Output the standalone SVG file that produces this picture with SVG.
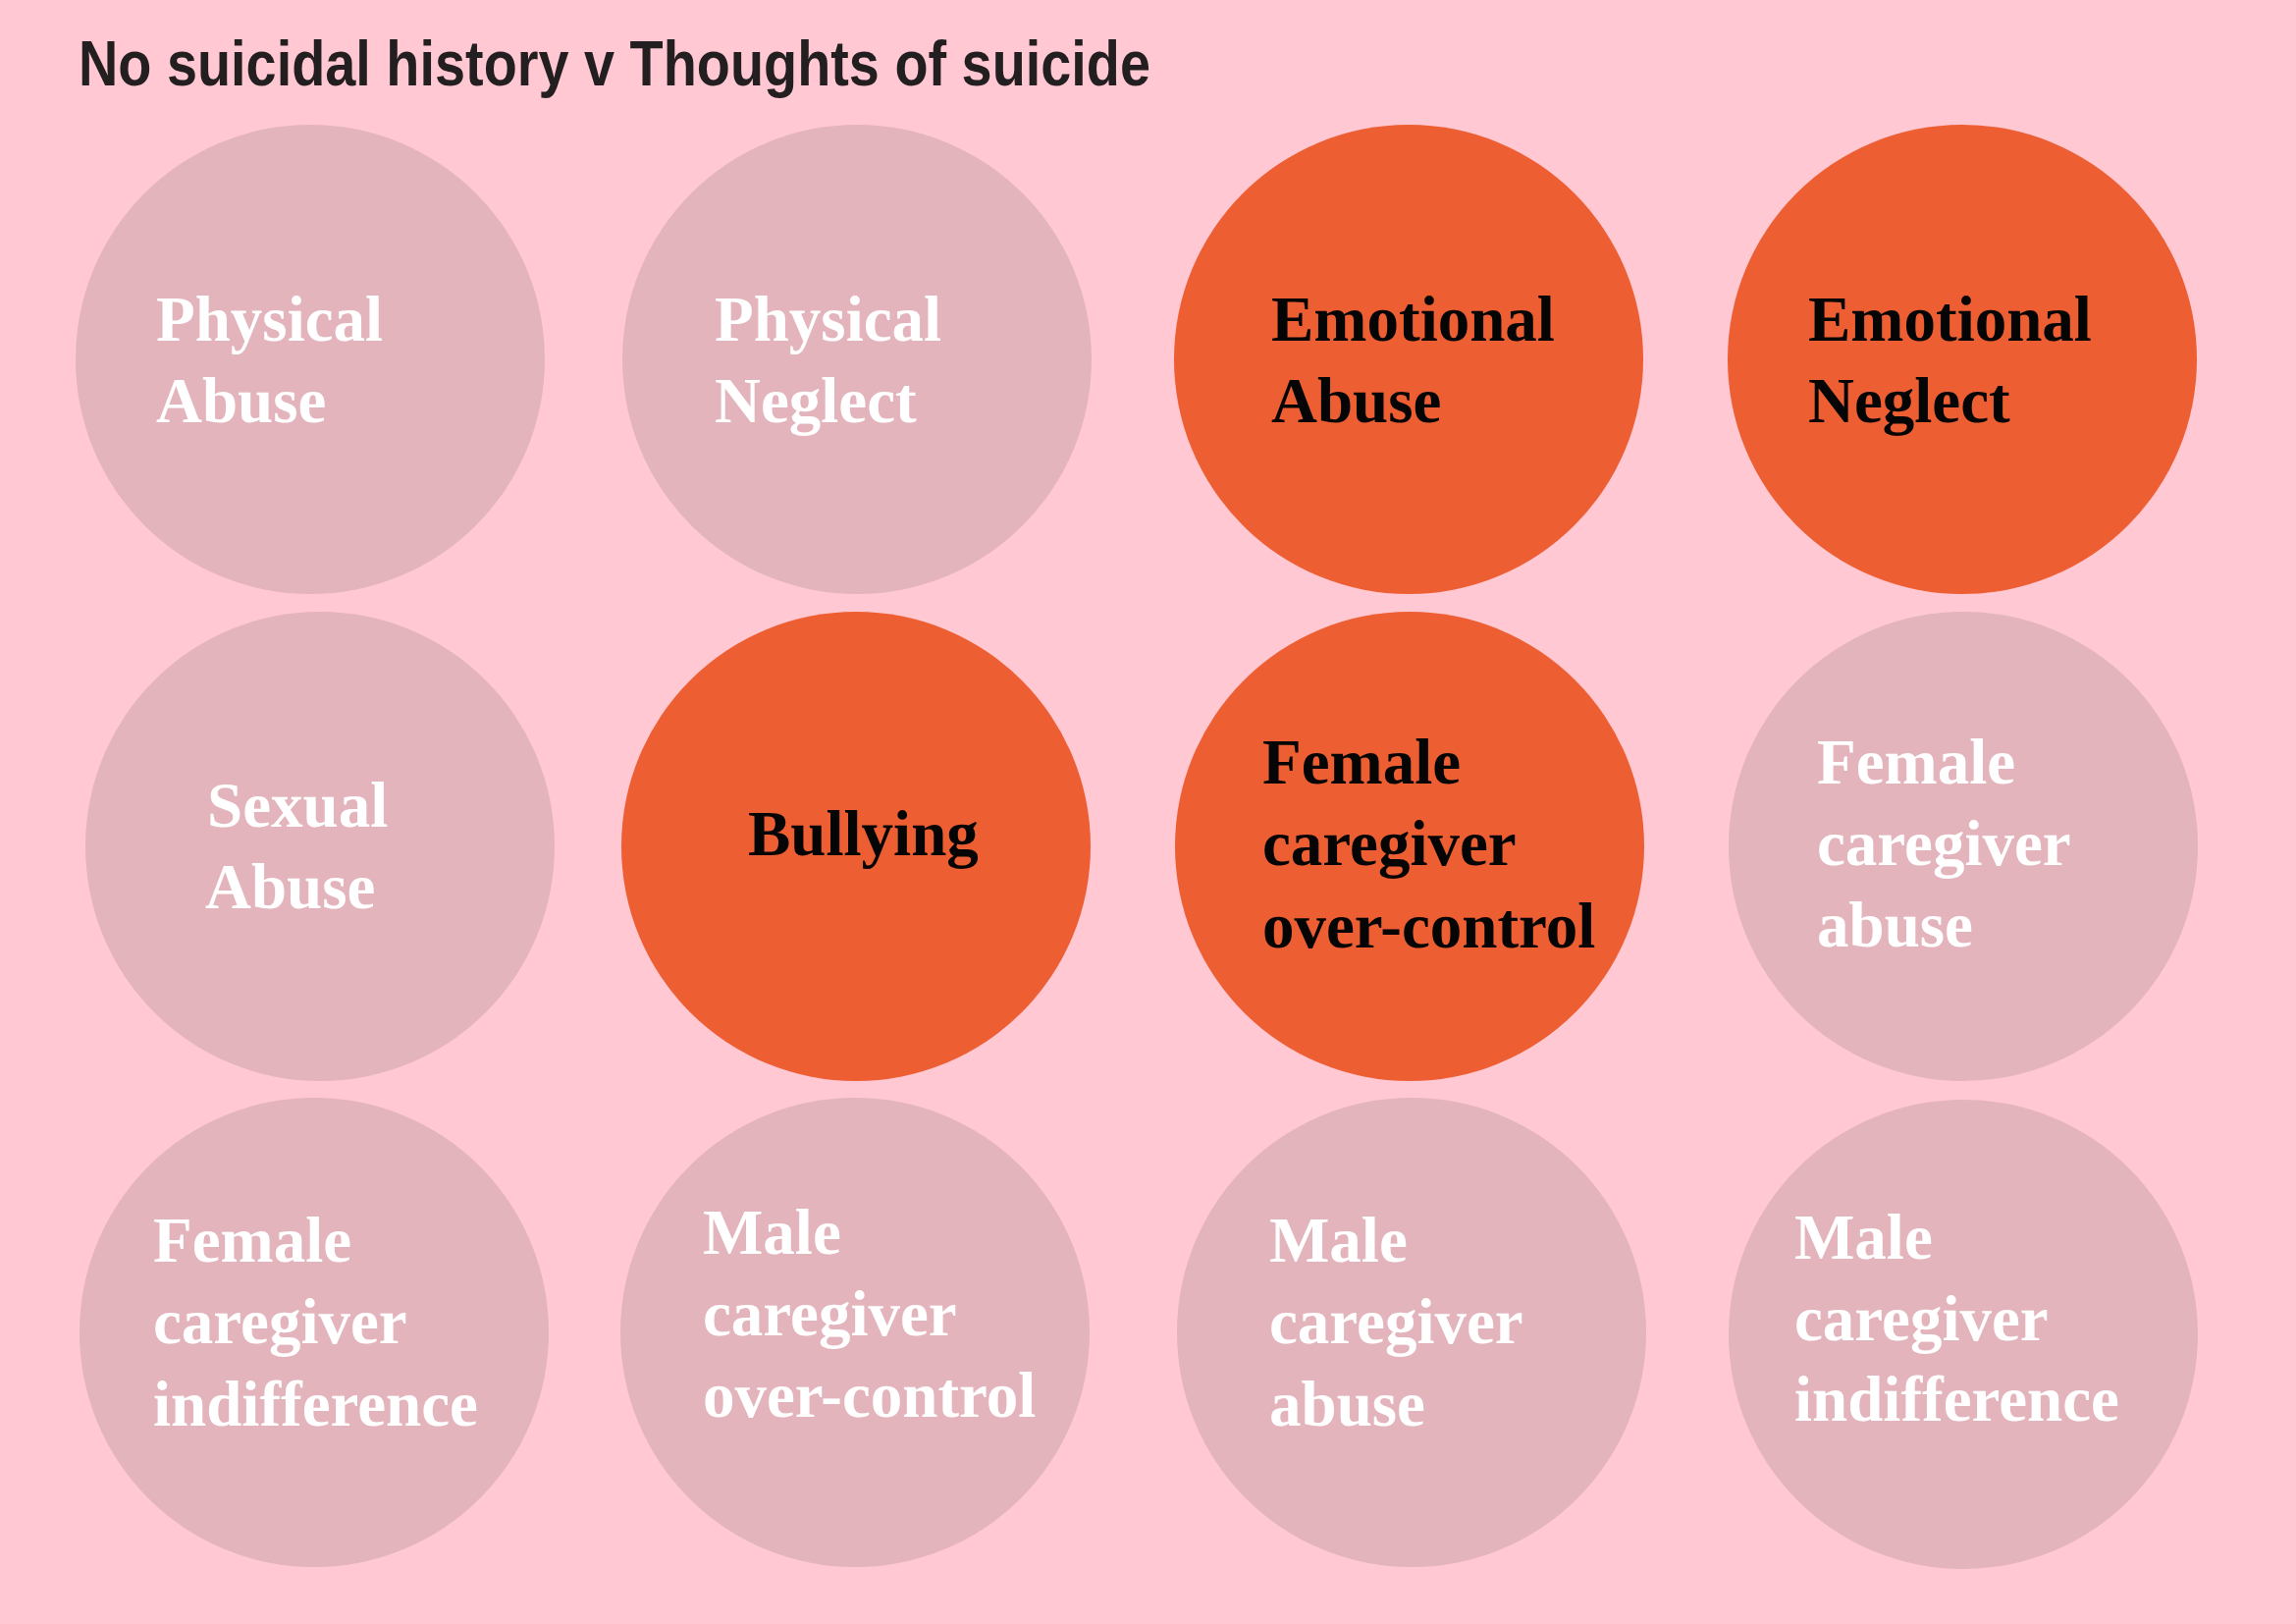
<svg xmlns="http://www.w3.org/2000/svg" width="2339" height="1654" viewBox="0 0 2339 1654">
<style>
.bg{fill:#FFC8D2}
.muted{fill:#E3B4BC}
.hot{fill:#EE5E33}
.lbl{font-family:"Liberation Serif","Times New Roman",serif;font-weight:bold;font-size:65px}
.lw{fill:#FFFFFF}
.lk{fill:#050505}
.title{font-family:"Liberation Sans",Arial,sans-serif;font-weight:bold;font-size:64px;fill:#231F20}
</style>
<rect class="bg" x="0" y="0" width="2339" height="1654"/>
<text class="title" x="80" y="87" textLength="1092" lengthAdjust="spacingAndGlyphs">No suicidal history v Thoughts of suicide</text>
<g id="connectors"></g>
<g id="physical-abuse"><circle class="muted" cx="316" cy="366" r="239"/><text class="lbl lw"><tspan x="159" y="347">Physical</tspan><tspan x="159" y="430">Abuse</tspan></text></g>
<g id="physical-neglect"><circle class="muted" cx="873" cy="366" r="239"/><text class="lbl lw"><tspan x="728" y="347">Physical</tspan><tspan x="728" y="430">Neglect</tspan></text></g>
<g id="emotional-abuse"><circle class="hot" cx="1435" cy="366" r="239"/><text class="lbl lk"><tspan x="1295" y="347">Emotional</tspan><tspan x="1295" y="430">Abuse</tspan></text></g>
<g id="emotional-neglect"><circle class="hot" cx="1999" cy="366" r="239"/><text class="lbl lk"><tspan x="1842" y="347">Emotional</tspan><tspan x="1842" y="430">Neglect</tspan></text></g>
<g id="sexual-abuse"><circle class="muted" cx="326" cy="862" r="239"/><text class="lbl lw"><tspan x="211" y="842">Sexual</tspan><tspan x="209" y="925">Abuse</tspan></text></g>
<g id="bullying"><circle class="hot" cx="872" cy="862" r="239"/><text class="lbl lk" x="762" y="871">Bullying</text></g>
<g id="female-over-control"><circle class="hot" cx="1436" cy="862" r="239"/><text class="lbl lk"><tspan x="1286" y="798">Female</tspan><tspan x="1286" y="881">caregiver</tspan><tspan x="1286" y="965">over-control</tspan></text></g>
<g id="female-abuse"><circle class="muted" cx="2000" cy="862" r="239"/><text class="lbl lw"><tspan x="1851" y="798">Female</tspan><tspan x="1851" y="881">caregiver</tspan><tspan x="1851" y="964">abuse</tspan></text></g>
<g id="female-indifference"><circle class="muted" cx="320" cy="1357" r="239"/><text class="lbl lw"><tspan x="156" y="1285">Female</tspan><tspan x="156" y="1368">caregiver</tspan><tspan x="156" y="1452">indifference</tspan></text></g>
<g id="male-over-control"><circle class="muted" cx="871" cy="1357" r="239"/><text class="lbl lw"><tspan x="716" y="1277">Male</tspan><tspan x="716" y="1360">caregiver</tspan><tspan x="716" y="1443">over-control</tspan></text></g>
<g id="male-abuse"><circle class="muted" cx="1438" cy="1357" r="239"/><text class="lbl lw"><tspan x="1293" y="1285">Male</tspan><tspan x="1293" y="1368">caregiver</tspan><tspan x="1293" y="1452">abuse</tspan></text></g>
<g id="male-indifference"><circle class="muted" cx="2000" cy="1359" r="239"/><text class="lbl lw"><tspan x="1828" y="1282">Male</tspan><tspan x="1828" y="1365">caregiver</tspan><tspan x="1828" y="1447">indifference</tspan></text></g>
</svg>
